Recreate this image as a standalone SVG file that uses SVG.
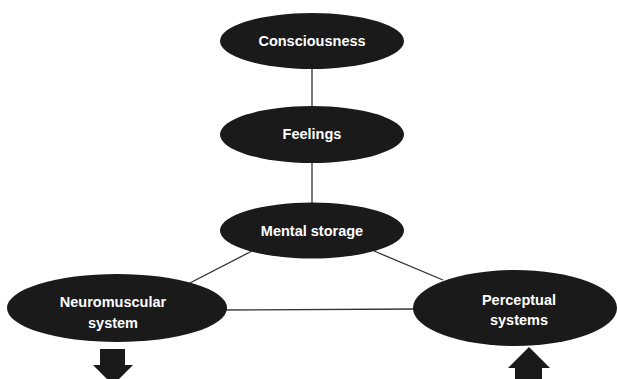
<svg xmlns="http://www.w3.org/2000/svg" width="617" height="379" viewBox="0 0 617 379">
  <style>
    .node { fill: #1a1a1a; }
    .label { fill: #ffffff; font-family: "Liberation Sans", Arial, sans-serif; font-weight: bold; font-size: 14.5px; text-anchor: middle; }
    .link { stroke: #333333; stroke-width: 1.3; fill: none; }
    .arrow { fill: #1a1a1a; }
  </style>
  <rect width="617" height="379" fill="#ffffff"/>
  <g id="connectors">
    <line class="link" x1="312" y1="60" x2="312" y2="115"/>
    <line class="link" x1="312" y1="155" x2="312" y2="210"/>
    <line class="link" x1="186" y1="285" x2="252" y2="251"/>
    <line class="link" x1="443" y1="280" x2="374" y2="251"/>
    <line class="link" x1="215" y1="310" x2="418" y2="309"/>
  </g>
  <g id="consciousness">
    <ellipse class="node" cx="312" cy="41" rx="92" ry="28"/>
    <text class="label" x="312" y="45.5">Consciousness</text>
  </g>
  <g id="feelings">
    <ellipse class="node" cx="312" cy="134.5" rx="92" ry="28.5"/>
    <text class="label" x="312" y="138.5">Feelings</text>
  </g>
  <g id="mental-storage">
    <ellipse class="node" cx="312" cy="230.5" rx="92" ry="28"/>
    <text class="label" x="312" y="236">Mental storage</text>
  </g>
  <g id="neuromuscular">
    <ellipse class="node" cx="117" cy="308" rx="110" ry="34"/>
    <text class="label" x="113" y="307">Neuromuscular</text>
    <text class="label" x="113" y="328">system</text>
    <polygon class="arrow" points="100,349 125,349 125,365 133,365 113,385 93,365 100,365"/>
  </g>
  <g id="perceptual">
    <ellipse class="node" cx="515" cy="308" rx="102" ry="38"/>
    <text class="label" x="519" y="305">Perceptual</text>
    <text class="label" x="519" y="325">systems</text>
    <polygon class="arrow" points="529,347 550,368 542,368 542,380 515,380 515,368 508,368"/>
  </g>
</svg>
